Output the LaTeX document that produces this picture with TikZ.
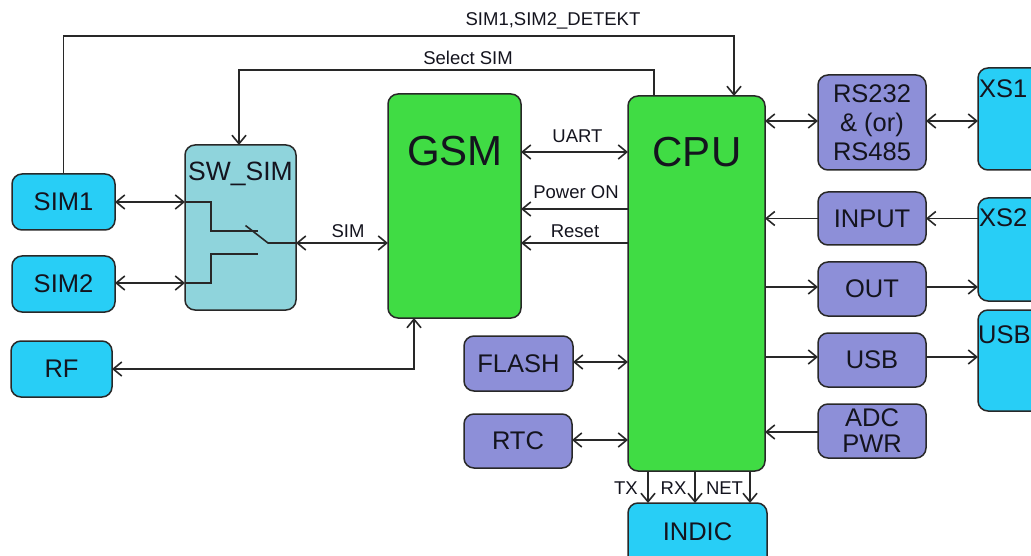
\documentclass[tikz,border=0pt]{standalone}
\usepackage{fontspec}
\setmainfont{Liberation Sans}
\usetikzlibrary{arrows.meta}
\definecolor{cyanbox}{RGB}{40,206,246}
\definecolor{swbox}{RGB}{143,212,220}
\definecolor{greenbox}{RGB}{64,220,68}
\definecolor{purplebox}{RGB}{141,143,216}
\definecolor{edge}{RGB}{40,40,40}
\definecolor{txt}{RGB}{20,20,30}
\newcommand{\fsz}[2]{\fontsize{#1}{#2}\selectfont}
\begin{document}
\begin{tikzpicture}[x=1pt,y=-1pt,
  box/.style={draw=edge,line width=1.5pt,rounded corners=10pt,inner sep=0pt,outer sep=0pt,text=txt,align=center,font=\fsz{25.5}{29}},
  cbox/.style={box,fill=cyanbox},
  pbox/.style={box,fill=purplebox},
  gbox/.style={box,fill=greenbox},
  lbl/.style={text=txt,inner sep=0pt,font=\fsz{18.5}{21}},
  conn/.style={line width=1.6pt,draw=edge},
  >={Straight Barb[length=8.5pt,width=14pt]}]
\useasboundingbox (0,0) rectangle (1031,556);
\clip (0,0) rectangle (1031,556);
\fill[white] (0,0) rectangle (1031,556);
% left boxes
\node[cbox,minimum width=103pt,minimum height=56pt] (SIM1) at (63.5,202) {SIM1};
\node[cbox,minimum width=103pt,minimum height=56pt] (SIM2) at (63.5,284) {SIM2};
\node[cbox,minimum width=101pt,minimum height=56pt] (RF) at (61.5,369) {RF};
\node[box,fill=swbox,minimum width=111pt,minimum height=165pt] (SWSIM) at (240.5,227.5) {};
\node[text=txt,inner sep=0pt,font=\fsz{26.5}{30}] (swl) at (240.5,174) {SW\_SIM};
% GSM and CPU
\node[gbox,minimum width=133pt,minimum height=224pt] (GSM) at (454.5,206) {};
\node[text=txt,inner sep=0pt,font=\fsz{42}{44}] (gsml) at (455,151) {GSM};
\node[gbox,minimum width=137pt,minimum height=375pt] (CPU) at (696.5,283.5) {};
\node[text=txt,inner sep=0pt,font=\fsz{42}{44}] (cpul) at (697,152) {CPU};
% peripheral boxes
\node[pbox,minimum width=108pt,minimum height=95pt] (RS) at (872,122.5) {RS232\\\& (or)\\RS485};
\node[pbox,minimum width=108pt,minimum height=53pt] (INPUT) at (872,218.5) {INPUT};
\node[pbox,minimum width=108pt,minimum height=54pt] (OUT) at (872,289) {OUT};
\node[pbox,minimum width=108pt,minimum height=54pt] (USBb) at (872,360) {USB};
\node[pbox,minimum width=108pt,minimum height=54pt,font=\fsz{25.5}{26}] (ADC) at (872,431) {ADC\\PWR};
\node[pbox,minimum width=109pt,minimum height=55pt] (FLASH) at (518.5,363.5) {FLASH};
\node[pbox,minimum width=108pt,minimum height=54pt] (RTC) at (518,441) {RTC};
% connectors boxes right
\node[cbox,minimum width=67pt,minimum height=102pt] (XS1) at (1011.5,119) {};
\node[text=txt,inner sep=0pt,font=\fsz{25.5}{29},anchor=west] (xs1l) at (979,89) {XS1};
\node[cbox,minimum width=67pt,minimum height=103pt] (XS2) at (1011.5,249.5) {};
\node[text=txt,inner sep=0pt,font=\fsz{25.5}{29},anchor=west] (xs2l) at (979,218) {XS2};
\node[cbox,minimum width=67pt,minimum height=101pt] (USBc) at (1011.5,360.5) {};
\node[text=txt,inner sep=0pt,font=\fsz{25.5}{29},anchor=west] (usbcl) at (978,335) {USB};
\node[cbox,minimum width=139pt,minimum height=72pt] (INDIC) at (697.5,539) {};
\node[text=txt,inner sep=0pt,font=\fsz{25.5}{29}] (indicl) at (697.5,532) {INDIC};
% switch inside SW_SIM
\draw[conn] (SWSIM.west |- SIM1) -- (211,202) -- (211,231) -- (258,231);
\draw[conn] (SWSIM.west |- 0,283) -- (211,283) -- (211,254) -- (258,254);
\draw[conn] (245.5,225.5) -- (268,243) -- ([yshift=-15.5pt]SWSIM.east);
% top loops
\coordinate (d) at (734,36);
\coordinate (s) at (239,70);
\draw[conn,->] (SIM1.north) |- (d) -- ([xshift=37.5pt]CPU.north);
\draw[conn,->] ([xshift=-42.5pt]CPU.north) |- (s) -- ([xshift=-1.5pt]SWSIM.north);
\node[lbl] at (553,21) {SIM1,SIM2\_DETEKT};
\node[lbl] at (468,58) {Select SIM};
% SIM links
\draw[conn,<->] (SIM1.east) -- (SIM1.east -| SWSIM.west);
\draw[conn,<->] ([yshift=1pt]SIM2.east) -- ([yshift=1pt]SIM2.east -| SWSIM.west);
\draw[conn,<->] ([yshift=-15.5pt]SWSIM.east) -- ([yshift=-15.5pt]SWSIM.east -| GSM.west);
\node[lbl] at (348,231) {SIM};
\draw[conn,<->] (RF.east) -| ([xshift=-40.5pt]GSM.south);
% GSM-CPU
\draw[conn,<->] ([yshift=54pt]GSM.east) -- ([yshift=54pt]GSM.east -| CPU.west);
\node[lbl] at (577.5,136) {UART};
\draw[conn,->] ([yshift=-3pt]GSM.east -| CPU.west) -- ([yshift=-3pt]GSM.east);
\node[lbl] at (576,192) {Power ON};
\draw[conn,->] ([yshift=-37pt]GSM.east -| CPU.west) -- ([yshift=-37pt]GSM.east);
\node[lbl] at (575,231) {Reset};
% CPU right side
\draw[conn,<->] ([yshift=1.5pt]RS.west -| CPU.east) -- ([yshift=1.5pt]RS.west);
\draw[conn,<->] ([yshift=1.5pt]RS.east) -- ([yshift=1.5pt]RS.east -| XS1.west);
\draw[conn,->] (INPUT.west) -- (INPUT.west -| CPU.east);
\draw[conn,->] (INPUT.east -| XS2.west) -- (INPUT.east);
\draw[conn,->] ([yshift=2pt]OUT.west -| CPU.east) -- ([yshift=2pt]OUT.west);
\draw[conn,->] ([yshift=2pt]OUT.east) -- ([yshift=2pt]OUT.east -| XS2.west);
\draw[conn,->] ([yshift=3pt]USBb.west -| CPU.east) -- ([yshift=3pt]USBb.west);
\draw[conn,->] ([yshift=3pt]USBb.east) -- ([yshift=3pt]USBb.east -| USBc.west);
\draw[conn,->] ([yshift=-1pt]ADC.west) -- ([yshift=-1pt]ADC.west -| CPU.east);
% CPU left side
\draw[conn,<->] ([yshift=1.5pt]FLASH.east) -- ([yshift=1.5pt]FLASH.east -| CPU.west);
\draw[conn,<->] ([yshift=1pt]RTC.east) -- ([yshift=1pt]RTC.east -| CPU.west);
% CPU to INDIC
\draw[conn,->] ([xshift=-48.5pt]CPU.south) -- ([xshift=-48.5pt]CPU.south |- INDIC.north);
\draw[conn,->] ([xshift=-1.5pt]CPU.south) -- ([xshift=-1.5pt]CPU.south |- INDIC.north);
\draw[conn,->] ([xshift=53.5pt]CPU.south) -- ([xshift=53.5pt]CPU.south |- INDIC.north);
\node[lbl] at (626,488) {TX};
\node[lbl] at (673.5,488) {RX};
\node[lbl] at (724.5,488) {NET};
\end{tikzpicture}
\end{document}
